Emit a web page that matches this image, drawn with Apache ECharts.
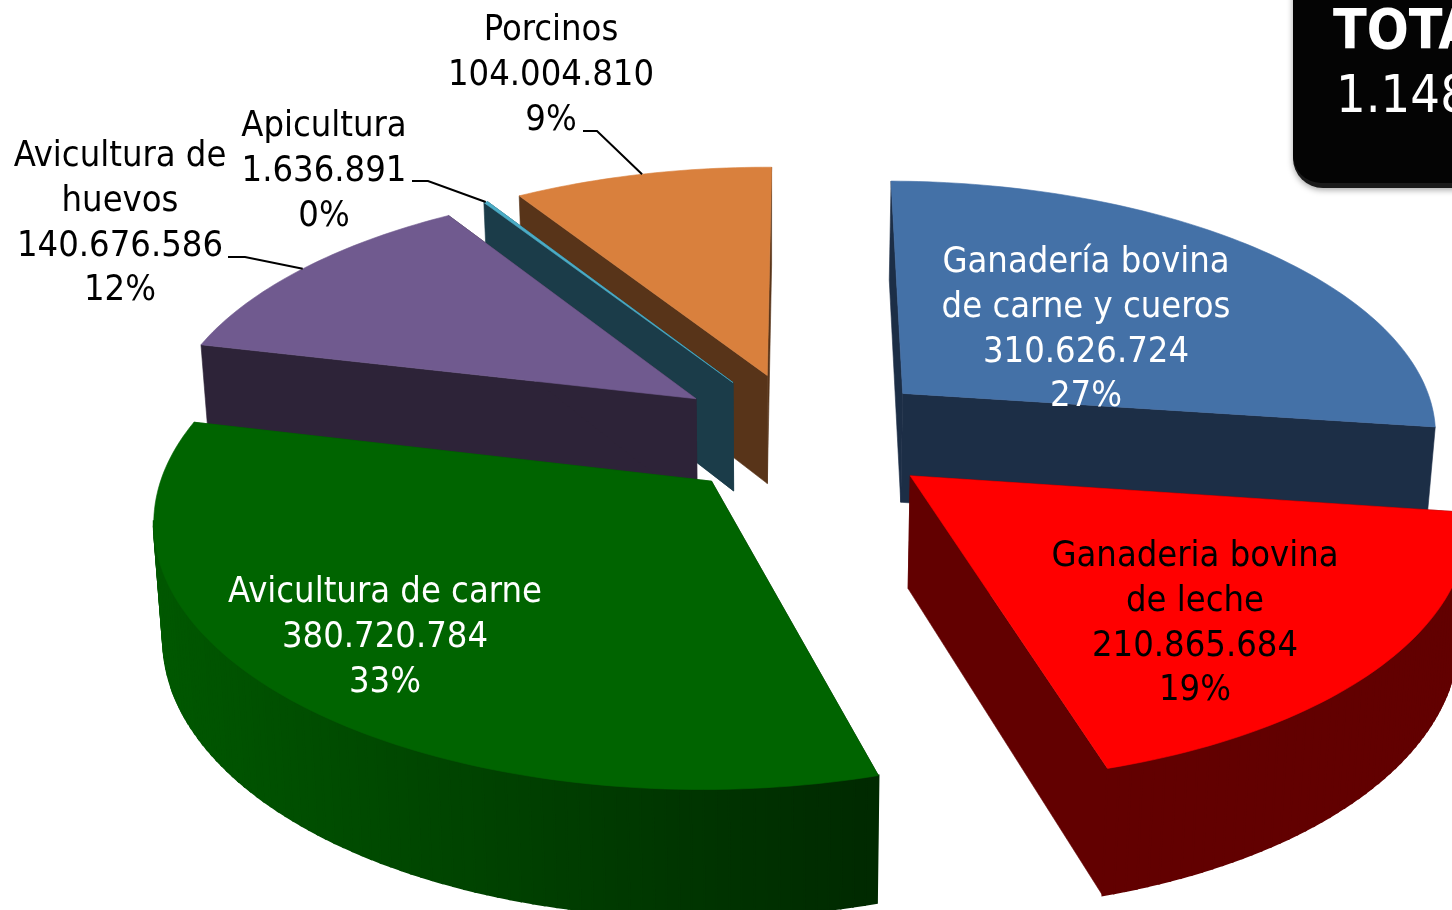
<!DOCTYPE html>
<html><head><meta charset="utf-8">
<style>html,body{margin:0;padding:0;background:#fff}#c{width:1452px;height:910px}</style>
<script src="https://cdn.jsdelivr.net/npm/echarts@6/dist/echarts.min.js"></script>
</head><body><div id="c"></div>
<script>
// ---- data ----
const categories = ["Ganadería bovina\nde carne y cueros","Ganaderia bovina\nde leche","Avicultura de carne","Avicultura de\nhuevos","Apicultura","Porcinos"];
const values = [310626724,210865684,380720784,140676586,1636891,104004810];
const percentLabels = ["27%","19%","33%","12%","0%","9%"];
const totalTitle = "TOTAL";
// ---- styles ----
const topColors = ["#4471A7","#FF0000","#006400","#705A8F","#4BACC6","#D9803D"];
const sideColors = ["#1C2E46","#620000",null,"#2D2338","#1B3C49","#583419"];
const greenSide = [[0,88,0],[0,42,0]];
const labelColors = ["#fff","#000","#fff","#000","#000","#000"];
const drawOrder = [5,4,3,0,1,2];
const FONT = '"DejaVu Sans Condensed","DejaVu Sans","Noto Sans",sans-serif';
// ---- layout: label centre x / first line centre y / leader start ----
const labelCx = [1086,1195,385,120,324,551];
const labelY0 = [263,557,593,157,127,31];
const lineStep = 44.7;
const leaderStart = [null,null,null,[228,257],[412,181],[583,131]];
const leaderKnee = [null,null,null,[245,257],[428,181],[597,131]];
// ---- projection of the pie plane (perspective) ----
const VX=771,HZ=-1400,A=1830,S=536,K=0.137,CX0=0.063,CY0=-0.016,EXPLODE=0.25,SHRINK=0.985,ROT=0.0085;
const proj=(x,y)=>{const w=1+K*y;return [VX+S*x/w,HZ+A/w];};
const lower=p=>[VX+(p[0]-VX)*SHRINK,p[1]+90+0.048*p[1]];
const total=values.reduce((a,b)=>a+b,0);
const fmt=v=>String(v).replace(/\B(?=(\d{3})+(?!\d))/g,'.');
const angles=[];let acc=0;
values.forEach(v=>{const a0=acc/total*2*Math.PI;acc+=v;angles.push([a0,acc/total*2*Math.PI]);});

function renderItem(params,api){
  const i=params.dataIndex,val=api.value(0);
  const [a0,a1]=angles[i],mid=(a0+a1)/2;
  const ax=CX0+EXPLODE*Math.sin(mid),ay=CY0+EXPLODE*Math.cos(mid);
  const pt=t=>proj(ax+Math.sin(t+ROT),ay+Math.cos(t+ROT));
  const n=Math.max(2,Math.ceil((a1-a0)/0.02));
  const arc=[];for(let k=0;k<=n;k++)arc.push(pt(a0+(a1-a0)*k/n));
  const apex=proj(ax,ay);
  const low=arc.map(lower),lapex=lower(apex);
  const z=drawOrder.indexOf(i)*10+1;
  const poly=(pts,fill,zz,lw)=>({type:'polygon',z2:zz,silent:true,shape:{points:pts},style:{fill:fill,stroke:fill,lineWidth:lw||0.6}});
  const sideAt=k=>{
    if(sideColors[i])return sideColors[i];
    const f=Math.min(1,Math.max(0,(arc[k][0]-150)/720));
    return 'rgb('+greenSide[0].map((c,j)=>Math.round(c+(greenSide[1][j]-c)*f)).join(',')+')';
  };
  const kids=[
    poly([apex,arc[0],low[0],lapex],sideAt(0),z),
    poly([apex,arc[n],low[n],lapex],sideAt(n),z)
  ];
  // the outer wall, swept step by step; the rear of the rim is hidden by the top face
  for(let k=0;k<n;k++){
    if(Math.cos(a0+(a1-a0)*(k+0.5)/n+ROT)>-0.14)continue;
    kids.push(poly([arc[k],arc[k+1],low[k+1],low[k]],sideAt(k),z+1,2));
  }
  kids.push(poly([apex].concat(arc),topColors[i],z+2));
  // labels
  const lines=categories[i].split("\n").concat([fmt(val),percentLabels[i]]);
  lines.forEach((t,k)=>kids.push({type:'text',z2:200,silent:true,style:{text:t,x:labelCx[i],y:labelY0[i]+k*lineStep,align:'center',verticalAlign:'middle',font:'36px '+FONT,fill:labelColors[i]}}));
  if(leaderStart[i]){
    kids.push({type:'polyline',z2:190,silent:true,shape:{points:[leaderStart[i],leaderKnee[i],pt(mid)]},style:{stroke:'#000',lineWidth:2,fill:null}});
  }
  return {type:'group',children:kids};
}
const chart=echarts.init(document.getElementById('c'),null,{renderer:'canvas'});
chart.setOption({
  animation:false,backgroundColor:'#fff',
  series:[{type:'custom',coordinateSystem:'none',silent:true,data:values.map(v=>[v]),renderItem:renderItem}],
  graphic:[
    {type:'rect',z:50,silent:true,shape:{x:1293,y:-60,width:320,height:248,r:30},style:{fill:'#1a1a1a',shadowBlur:6,shadowColor:'rgba(0,0,0,0.35)',shadowOffsetY:2}},
    {type:'rect',z:51,silent:true,shape:{x:1293,y:-60,width:320,height:243,r:28},style:{fill:'#040404'}},
    {type:'text',z:52,silent:true,style:{text:totalTitle,x:1333,y:34,align:'left',verticalAlign:'middle',font:'bold 55px '+FONT,fill:'#fff'}},
    {type:'text',z:52,silent:true,style:{text:fmt(total),x:1336,y:98,align:'left',verticalAlign:'middle',font:'52px '+FONT,fill:'#fff'}}
  ]
});
</script></body></html>
